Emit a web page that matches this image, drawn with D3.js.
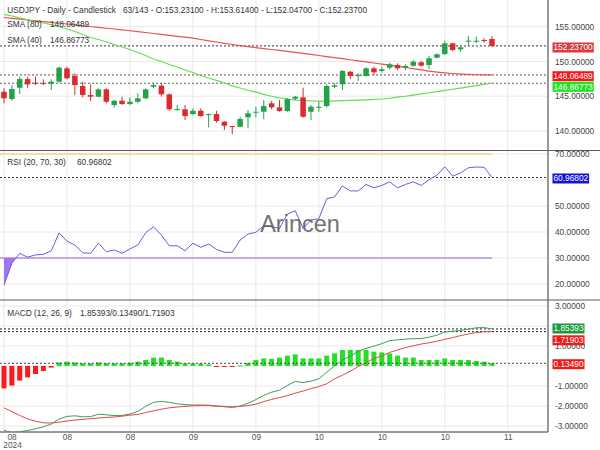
<!DOCTYPE html>
<html><head><meta charset="utf-8">
<script src="https://cdn.jsdelivr.net/npm/d3@7"></script>
<style>body{margin:0;background:#fff}svg{display:block;font-family:"Liberation Sans",Arial,sans-serif}</style>
</head><body><svg id="c" width="600" height="450"></svg>
<script>
// ---------- DATA ----------
const opens  = [145.65,144.60,146.22,147.47,146.94,146.90,146.80,147.09,149.01,147.91,146.47,145.17,144.93,145.99,143.73,144.35,143.88,144.21,144.70,146.37,146.51,145.27,143.01,143.12,142.44,142.91,142.29,142.44,141.33,140.71,140.61,141.96,142.63,142.77,143.98,143.40,142.87,144.64,144.84,142.77,143.40,143.59,146.37,146.71,148.53,147.91,147.91,149.01,148.63,149.10,149.49,149.10,149.39,149.88,149.49,150.54,151.07,152.61,151.75,152.90,152.90,153.09,153.231];
const highs  = [146.14,146.61,147.81,147.81,147.81,147.43,147.43,149.24,149.24,148.29,147.09,146.71,146.14,146.14,144.45,144.93,144.84,145.42,146.14,146.94,146.86,145.42,143.73,143.73,143.26,143.26,142.50,142.91,141.43,140.75,142.05,143.01,143.49,144.45,144.31,144.45,144.70,145.03,146.22,143.73,144.21,146.71,146.86,148.77,148.63,148.29,149.16,149.24,149.24,149.82,149.73,149.59,150.21,150.06,150.83,151.17,152.99,152.70,152.12,153.66,153.56,153.33,153.614];
const lows   = [143.98,144.35,145.32,146.22,146.61,146.61,145.89,146.94,147.43,145.17,144.84,144.31,144.84,143.98,143.35,143.73,143.73,143.98,144.55,146.14,144.93,142.91,142.91,141.58,142.29,142.05,140.53,141.19,140.14,139.52,140.53,140.38,141.96,141.68,143.12,142.77,142.77,144.45,141.91,141.58,142.77,143.40,146.14,145.89,147.43,147.19,147.81,148.05,148.38,148.87,148.77,148.77,149.24,149.24,148.91,150.45,150.93,151.50,151.40,152.27,152.61,152.70,152.047];
const closes = [144.70,146.04,147.47,146.71,146.80,146.80,147.09,149.10,147.58,146.61,145.17,144.93,145.99,144.21,144.35,143.88,144.21,144.70,145.99,146.61,145.27,143.12,143.16,142.15,142.91,142.15,142.44,141.43,140.76,140.61,141.72,142.54,142.77,143.59,143.40,142.87,144.60,144.93,142.05,143.49,143.49,146.47,146.57,148.63,147.91,148.05,149.01,148.44,148.87,149.59,149.01,149.35,149.96,149.39,150.45,151.03,152.61,151.65,152.04,152.99,152.99,152.99,152.237];
const sma80  = [156.32,156.21,156.09,155.96,155.85,155.73,155.62,155.50,155.39,155.27,155.14,155.03,154.91,154.78,154.67,154.55,154.42,154.29,154.17,154.02,153.89,153.76,153.62,153.49,153.35,153.16,152.97,152.80,152.61,152.44,152.28,152.14,151.99,151.86,151.72,151.59,151.46,151.32,151.17,151.01,150.86,150.70,150.55,150.40,150.25,150.09,149.94,149.78,149.62,149.47,149.30,149.13,148.96,148.78,148.61,148.48,148.37,148.27,148.19,148.13,148.09,148.07,148.06489];
const sma40  = [156.77,156.54,156.28,155.99,155.75,155.53,155.30,154.99,154.67,154.31,153.88,153.45,153.16,152.80,152.44,152.08,151.72,151.29,150.86,150.35,149.99,149.56,149.20,148.77,148.41,147.98,147.62,147.29,146.90,146.50,146.18,145.86,145.58,145.27,145.00,144.77,144.60,144.45,144.37,144.32,144.31,144.31,144.34,144.37,144.40,144.44,144.48,144.54,144.60,144.71,144.86,145.00,145.17,145.33,145.50,145.67,145.84,146.00,146.17,146.35,146.53,146.70,146.86773];
const rsi    = [19.6,28.0,31.8,30.3,31.2,31.4,32.7,39.7,36.5,35.0,32.0,31.8,35.7,32.4,33.1,31.8,33.5,35.0,39.7,42.0,38.8,34.7,34.7,32.8,35.7,34.1,35.4,33.3,32.2,32.2,36.9,39.2,39.9,42.3,42.0,41.4,46.9,48.2,41.4,44.6,45.1,52.8,53.5,57.7,55.8,55.8,58.3,57.0,57.9,59.3,57.0,58.3,59.3,57.9,60.2,61.8,65.1,61.5,62.7,64.7,65.0,64.9,60.96802];
const macd   = [-3.22,-3.33,-3.29,-3.22,-3.14,-3.04,-2.90,-2.65,-2.52,-2.49,-2.54,-2.53,-2.41,-2.44,-2.48,-2.47,-2.40,-2.27,-2.02,-1.82,-1.77,-1.82,-1.89,-1.93,-1.95,-1.95,-1.96,-2.00,-2.04,-2.07,-2.01,-1.86,-1.68,-1.47,-1.31,-1.21,-0.97,-0.77,-0.83,-0.76,-0.64,-0.31,0.00,0.30,0.50,0.74,0.88,0.99,1.12,1.27,1.31,1.34,1.37,1.37,1.44,1.54,1.70,1.74,1.78,1.84,1.91,1.92,1.85393];
const signal = [-2.09,-2.28,-2.47,-2.65,-2.76,-2.84,-2.85,-2.81,-2.75,-2.70,-2.67,-2.63,-2.60,-2.57,-2.55,-2.51,-2.46,-2.42,-2.33,-2.24,-2.16,-2.09,-2.05,-2.02,-1.99,-1.98,-1.98,-2.01,-2.02,-2.04,-2.02,-1.98,-1.91,-1.78,-1.67,-1.58,-1.48,-1.36,-1.25,-1.13,-1.03,-0.89,-0.64,-0.46,-0.26,-0.03,0.17,0.38,0.50,0.68,0.80,0.92,1.01,1.10,1.16,1.24,1.33,1.42,1.52,1.60,1.67,1.71,1.71903];
const hist   = [-1.12,-0.98,-0.73,-0.57,-0.40,-0.25,-0.08,0.18,0.22,0.18,0.13,0.13,0.18,0.13,0.13,0.13,0.17,0.22,0.30,0.42,0.42,0.30,0.22,0.13,0.13,0.12,0.08,-0.03,-0.05,-0.04,0.03,0.15,0.30,0.38,0.35,0.42,0.52,0.58,0.38,0.38,0.38,0.52,0.63,0.80,0.80,0.80,0.80,0.72,0.68,0.63,0.52,0.42,0.42,0.30,0.30,0.30,0.38,0.30,0.30,0.30,0.25,0.22,0.13490];
const xTickIdx    = [0,8,16,24,32,40,48,56,64];
const xTickLabels = ["08","08","08","09","09","10","10","10","11"];
const priceTicks = [140,145,150,155];
const rsiTicks   = [20,30,40,50,60,70];
const macdTicks  = [-3,-2,-1,0,1,2,3];
const rsiTickLabels  = [20,30,40,50,70];      // 60 is hidden under the value tag
const macdTickLabels = [-3,-2,-1,1,3];        // 0 and 2 are hidden under value tags
const rsiLevels  = [70,30];

// ---------- LAYOUT ----------
const svg = d3.select("#c");
const AX = 548, BOT = 432;
const P = {top:0, bot:150}, R = {top:151, bot:299}, M = {top:301, bot:BOT};
const x  = d3.scaleLinear().domain([0,62]).range([4,492]);
const yP = d3.scaleLinear().domain([140,155]).range([131,26.7]);
const yR = d3.scaleLinear().domain([20,70]).range([284,154]);
const yM = d3.scaleLinear().domain([-3,3]).range([426,306]);
const idx = d3.range(opens.length);
const fmt = v => v.toFixed(5);
const FS = 8.3;

const defs = svg.append("defs");
function clip(id, p){ defs.append("clipPath").attr("id",id).append("rect").attr("x",0).attr("y",p.top).attr("width",AX).attr("height",p.bot-p.top); }
clip("cp",P); clip("cr",R); clip("cm",M);
defs.append("clipPath").attr("id","below30").append("rect").attr("x",0).attr("y",yR(30)).attr("width",AX).attr("height",R.bot-yR(30));

// grid
const grid = svg.append("g").attr("stroke","#e9e9e9").attr("stroke-width",1);
grid.selectAll(".vg").data(xTickIdx).join("line").attr("x1",d=>x(d)).attr("x2",d=>x(d)).attr("y1",0).attr("y2",BOT);
function hgrid(ticks, sc){ grid.append("g").selectAll("line").data(ticks).join("line").attr("x1",0).attr("x2",AX).attr("y1",d=>sc(d)).attr("y2",d=>sc(d)); }
hgrid(priceTicks,yP); hgrid(rsiTicks,yR); hgrid(macdTicks,yM);

// ---------- PRICE PANEL ----------
const gp = svg.append("g").attr("clip-path","url(#cp)");
function dotted(g, y, color){ g.append("line").attr("x1",0).attr("x2",AX).attr("y1",y).attr("y2",y).attr("stroke",color).attr("stroke-width",1).attr("stroke-dasharray","2,2"); }
dotted(gp, yP(closes[62]), "#333");
dotted(gp, yP(sma80[62]), "#6b4a4a");
dotted(gp, yP(sma40[62]), "#566b56");
const line = (sc, arr) => d3.line().x(i=>x(i)).y(i=>sc(arr[i]));
gp.append("path").attr("d",line(yP,sma80)(idx)).attr("fill","none").attr("stroke","#ec5050").attr("stroke-width",1.2);
gp.append("path").attr("d",line(yP,sma40)(idx)).attr("fill","none").attr("stroke","#66dd55").attr("stroke-width",1.2);
const GREEN="#24a24b", RED="#dc2a2e";
const cg = gp.append("g").selectAll("g").data(idx).join("g");
cg.append("line").attr("x1",i=>x(i)).attr("x2",i=>x(i)).attr("y1",i=>yP(highs[i])).attr("y2",i=>yP(lows[i]))
  .attr("stroke",i=>closes[i]>=opens[i]?GREEN:RED).attr("stroke-width",1);
cg.append("rect").attr("x",i=>x(i)-2.75).attr("width",5.5)
  .attr("y",i=>yP(Math.max(opens[i],closes[i])))
  .attr("height",i=>Math.max(1,Math.abs(yP(opens[i])-yP(closes[i]))))
  .attr("fill",i=>closes[i]>=opens[i]?GREEN:RED);

// ---------- RSI PANEL ----------
const gr = svg.append("g").attr("clip-path","url(#cr)");
dotted(gr, yR(rsi[62]), "#333");
gr.append("line").attr("x1",0).attr("x2",x(62)).attr("y1",yR(rsiLevels[0])).attr("y2",yR(rsiLevels[0])).attr("stroke","#f2d98c").attr("stroke-width",1.5);
gr.append("line").attr("x1",0).attr("x2",x(62)).attr("y1",yR(rsiLevels[1])).attr("y2",yR(rsiLevels[1])).attr("stroke","#b68cf2").attr("stroke-width",1.5);
gr.append("g").attr("clip-path","url(#below30)").append("path")
  .attr("d",d3.area().x(i=>x(i)).y0(yR(30)).y1(i=>yR(rsi[i]))(idx)).attr("fill","#a274f2");
gr.append("path").attr("d",line(yR,rsi)(idx)).attr("fill","none").attr("stroke","#6a5ae6").attr("stroke-width",1);
svg.append("text").attr("x",300).attr("y",231.5).attr("text-anchor","middle").attr("font-size",23.5).attr("fill","#5a5a5a").attr("opacity",0.85).text("Arincen");

// ---------- MACD PANEL ----------
const gm = svg.append("g").attr("clip-path","url(#cm)");
gm.selectAll(".hb").data(idx).join("rect")
  .attr("x",i=>x(i)-2.5).attr("width",5)
  .attr("y",i=>hist[i]>=0?yM(hist[i]):yM(0))
  .attr("height",i=>Math.max(1,Math.abs(yM(hist[i])-yM(0))))
  .attr("fill",i=>hist[i]>=0?"#22e022":"#ff1a1a");
dotted(gm, yM(macd[62]), "#222");
dotted(gm, yM(signal[62]), "#222");
dotted(gm, yM(hist[62]), "#444");
gm.append("path").attr("d",line(yM,macd)(idx)).attr("fill","none").attr("stroke","#3d9d5c").attr("stroke-width",1);
gm.append("path").attr("d",line(yM,signal)(idx)).attr("fill","none").attr("stroke","#e4484a").attr("stroke-width",1);

// ---------- FRAME ----------
svg.append("line").attr("x1",0).attr("x2",600).attr("y1",150.5).attr("y2",150.5).attr("stroke","#5a5a5a");
svg.append("line").attr("x1",0).attr("x2",600).attr("y1",300).attr("y2",300).attr("stroke","#5a5a5a");
svg.append("line").attr("x1",AX).attr("x2",AX).attr("y1",0).attr("y2",BOT).attr("stroke","#777").attr("stroke-width",1.5);
svg.append("line").attr("x1",0).attr("x2",AX).attr("y1",BOT).attr("y2",BOT).attr("stroke","#777").attr("stroke-width",1.5);

// ---------- AXES ----------
function yAxis(sc, ticks){
  const g = svg.append("g").attr("transform",`translate(${AX},0)`)
    .call(d3.axisRight(sc).tickValues(ticks).tickFormat(fmt).tickSize(0).tickPadding(7));
  g.select(".domain").remove();
  g.selectAll("text").attr("font-size",FS).attr("fill","#444").attr("font-family","Liberation Sans, Arial, sans-serif");
}
yAxis(yP, priceTicks); yAxis(yR, rsiTickLabels); yAxis(yM, macdTickLabels);

const xa = svg.append("g").attr("transform",`translate(0,${BOT})`)
  .call(d3.axisBottom(x).tickValues(xTickIdx).tickFormat((d,i)=>xTickLabels[i]).tickSize(0).tickPadding(2.2));
xa.select(".domain").remove();
xa.selectAll("text").attr("font-size",FS).attr("fill","#555").attr("font-family","Liberation Sans, Arial, sans-serif");
xa.selectAll(".tick").filter((d,i)=>i===0).select("text").attr("text-anchor","start").attr("x",3);
svg.append("text").attr("x",3.3).attr("y",447.5).attr("font-size",FS).attr("fill","#555").text("2024");

// ---------- TAGS ----------
function tag(v, cy, bg){
  const g = svg.append("g");
  const t = g.append("text").attr("x",553.5).attr("y",cy).attr("dy","0.35em").attr("font-size",FS).attr("fill","#fff").text(fmt(v));
  const w = t.node().getComputedTextLength();
  g.insert("rect","text").attr("x",552.5).attr("y",cy-5).attr("width",w+2).attr("height",10).attr("fill",bg);
}
tag(closes[62], 47.5, "#d93a3f");
tag(sma80[62], 76.2, "#ff1414");
tag(sma40[62], 86.8, "#19e619");
tag(rsi[62], 178.5, "#1212dd");
tag(macd[62], 328.5, "#1a9a3a");
tag(signal[62], 340.3, "#f01a1a");
tag(hist[62], 364.2, "#f01a1a");

// ---------- LEGENDS ----------
const lg = svg.append("g").attr("font-size",FS).attr("fill","#333");
lg.append("text").attr("x",7.3).attr("y",13.3).text("USDJPY - Daily - Candlestick");
lg.append("text").attr("x",123).attr("y",13.3).text(`63/143 - O:${fmt(opens[62])} - H:${fmt(highs[62])} - L:${fmt(lows[62])} - C:${fmt(closes[62])}`);
lg.append("text").attr("x",7.3).attr("y",27.3).text("SMA (80)");
lg.append("text").attr("x",50).attr("y",27.3).text(fmt(sma80[62]));
lg.append("text").attr("x",7.3).attr("y",43.3).text("SMA (40)");
lg.append("text").attr("x",50).attr("y",43.3).text(fmt(sma40[62]));
lg.append("text").attr("x",7.3).attr("y",165).text("RSI (20, 70, 30)");
lg.append("text").attr("x",77).attr("y",165).text(fmt(rsi[62]));
lg.append("text").attr("x",7.3).attr("y",315.7).text("MACD (12, 26, 9)");
lg.append("text").attr("x",80).attr("y",315.7).text(`${fmt(macd[62])}/${fmt(hist[62])}/${fmt(signal[62])}`);
</script></body></html>
